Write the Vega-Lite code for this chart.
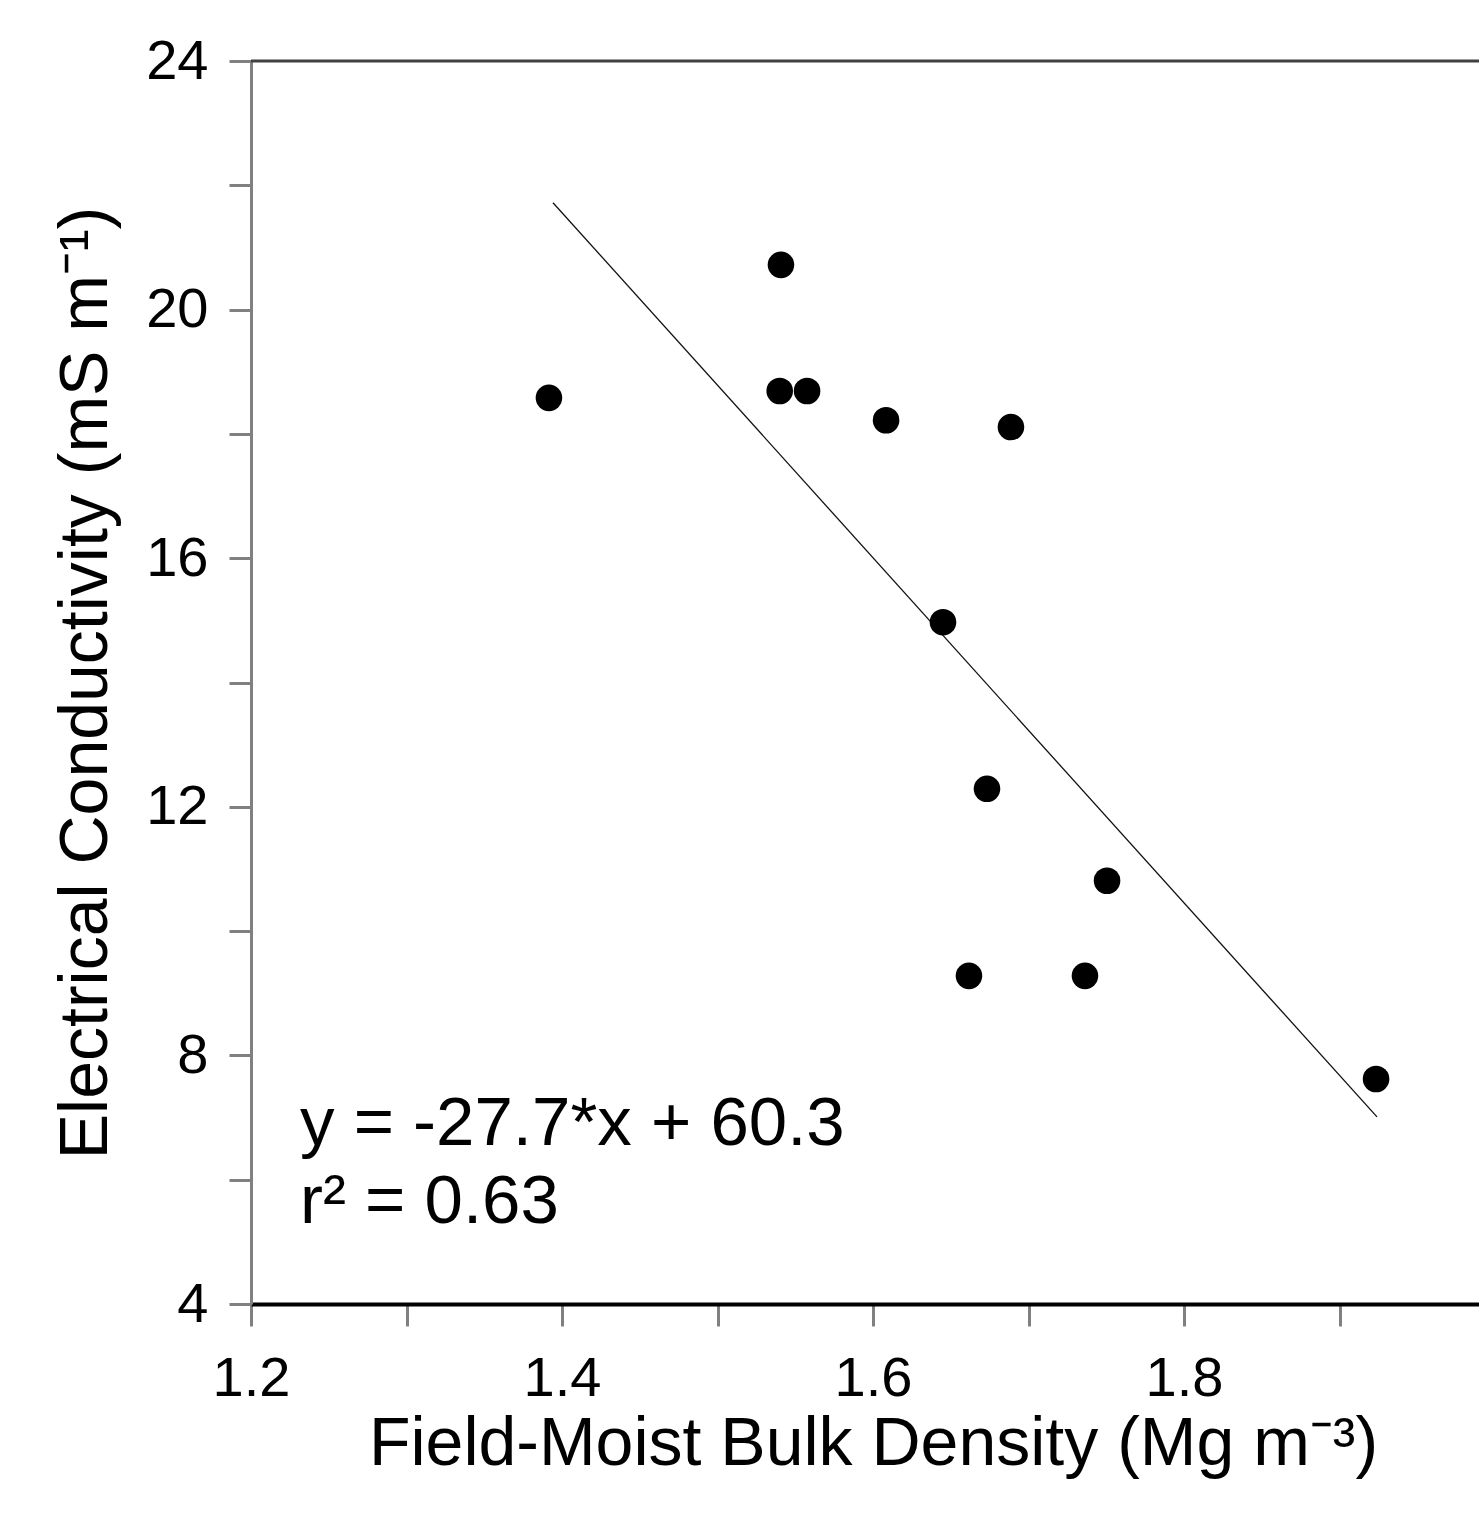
{
  "$schema": "https://vega.github.io/schema/vega-lite/v6.json",
  "width": 1228,
  "height": 1243,
  "autosize": "none",
  "padding": {"left": 251, "top": 61, "right": 0, "bottom": 209},
  "background": "white",
  "config": {"view": {"stroke": null}, "font": "Liberation Sans"},
  "layer": [
    {
      "data": {"values": [{"y": 24}]},
      "mark": {"type": "rule", "color": "#404040", "strokeWidth": 3},
      "encoding": {"y": {"field": "y", "type": "quantitative", "title": "Electrical Conductivity (mS m⁻¹)"}}
    },
    {
      "data": {"values": [{"x": 1.3942, "y": 21.72}, {"x": 1.9241, "y": 7.01}]},
      "mark": {"type": "line", "color": "#111111", "strokeWidth": 1.3},
      "encoding": {
        "x": {"field": "x", "type": "quantitative", "title": "Field-Moist Bulk Density (Mg m⁻³)"},
        "y": {"field": "y", "type": "quantitative", "title": "Electrical Conductivity (mS m⁻¹)"}
      }
    },
    {
      "data": {"values": [
        {"x": 1.3916, "y": 18.58},
        {"x": 1.5408, "y": 20.72},
        {"x": 1.5400, "y": 18.69},
        {"x": 1.5576, "y": 18.69},
        {"x": 1.6084, "y": 18.22},
        {"x": 1.6887, "y": 18.11},
        {"x": 1.6450, "y": 14.97},
        {"x": 1.6733, "y": 12.29},
        {"x": 1.7505, "y": 10.81},
        {"x": 1.6617, "y": 9.28},
        {"x": 1.7363, "y": 9.28},
        {"x": 1.9235, "y": 7.62}
      ]},
      "mark": {"type": "point", "shape": "circle", "filled": true, "color": "black", "opacity": 1, "size": 707},
      "encoding": {
        "x": {
          "field": "x", "type": "quantitative",
          "title": "Field-Moist Bulk Density (Mg m⁻³)",
          "scale": {"domain": [1.2, 1.9897], "nice": false, "zero": false},
          "axis": {
            "values": [1.2, 1.3, 1.4, 1.5, 1.6, 1.7, 1.8, 1.9],
            "format": ".1f",
            "labelExpr": "abs(round(datum.value*10) % 2) == 0 ? datum.label : ''",
            "labelFlush": false,
            "labelOverlap": false,
            "grid": false,
            "domainColor": "black", "domainWidth": 4,
            "tickColor": "#808080", "tickWidth": 3, "tickSize": 22,
            "labelFontSize": 56, "labelColor": "black", "labelPadding": 25,
            "labelFont": "Liberation Sans",
            "titleFont": "Liberation Sans", "titleFontSize": 68, "titleFontWeight": "normal",
            "titleColor": "black", "titlePadding": 4, "titleX": 622
          }
        },
        "y": {
          "field": "y", "type": "quantitative",
          "title": "Electrical Conductivity (mS m⁻¹)",
          "scale": {"domain": [4, 24], "nice": false, "zero": false},
          "axis": {
            "values": [4, 6, 8, 10, 12, 14, 16, 18, 20, 22, 24],
            "format": "d",
            "labelExpr": "datum.value % 4 == 0 ? datum.label : ''",
            "labelFlush": false,
            "labelOverlap": false,
            "grid": false,
            "domainColor": "#808080", "domainWidth": 3,
            "tickColor": "#808080", "tickWidth": 3, "tickSize": 22,
            "labelFontSize": 56, "labelColor": "black", "labelPadding": 21,
            "labelFont": "Liberation Sans",
            "titleFont": "Liberation Sans", "titleFontSize": 68, "titleFontWeight": "normal",
            "titleColor": "black", "titlePadding": 25
          }
        }
      }
    },
    {
      "data": {"values": [
        {"x": 1.2315, "y": 6.56, "label": "y = -27.7*x + 60.3"},
        {"x": 1.2315, "y": 5.30, "label": "r² = 0.63"}
      ]},
      "mark": {"type": "text", "align": "left", "baseline": "alphabetic", "fontSize": 69, "font": "Liberation Sans", "color": "black"},
      "encoding": {
        "x": {"field": "x", "type": "quantitative", "title": "Field-Moist Bulk Density (Mg m⁻³)"},
        "y": {"field": "y", "type": "quantitative", "title": "Electrical Conductivity (mS m⁻¹)"},
        "text": {"field": "label"}
      }
    }
  ]
}
